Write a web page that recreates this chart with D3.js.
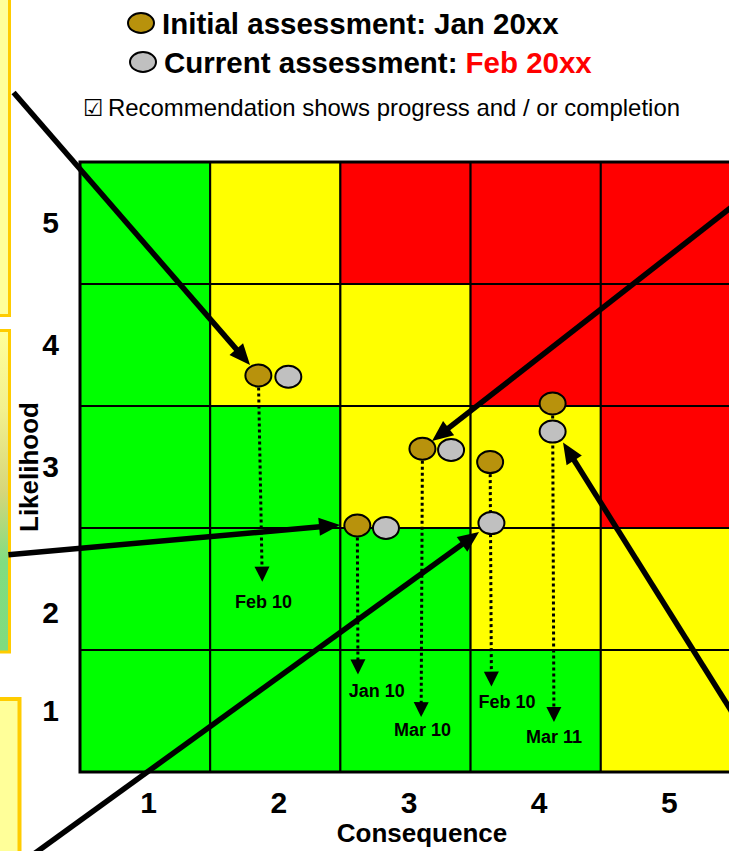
<!DOCTYPE html>
<html><head><meta charset="utf-8">
<script src="https://cdn.jsdelivr.net/npm/d3@7"></script>
<style>html,body{margin:0;padding:0;background:#fff;overflow:hidden}</style>
</head><body>
<svg id="chart" width="729" height="851"></svg>
<script>
// ---- data ----
const consequenceLevels = [1, 2, 3, 4, 5];
const likelihoodLevels = [1, 2, 3, 4, 5];
// cell rating, rows = likelihood 5 .. 1, columns = consequence 1 .. 5
const ratingRows = [
  ["low", "medium", "high",   "high",   "high"],
  ["low", "medium", "medium", "high",   "high"],
  ["low", "low",    "medium", "medium", "high"],
  ["low", "low",    "low",    "medium", "medium"],
  ["low", "low",    "low",    "low",    "medium"]
];
const ratingColors = { low: "#00FF00", medium: "#FFFF00", high: "#FF0000" };

// risks: initial and current assessment (consequence, likelihood)
const initialConsequence = [1.87, 3.13, 2.63, 3.65, 4.13];
const initialLikelihood  = [3.75, 3.15, 2.52, 3.04, 3.52];
const currentConsequence = [2.10, 3.35, 2.85, 3.66, 4.13];
const currentLikelihood  = [3.74, 3.14, 2.50, 2.54, 3.29];
// target level after the recommendation is completed, with its due date
const targetConsequence = [1.90, 3.12, 2.635, 3.66, 4.14];
const targetLikelihood  = [2.06, 0.95, 1.30, 1.20, 0.91];
const dueDates = ["Feb 10", "Mar 10", "Jan 10", "Feb 10", "Mar 11"];
const dueLabelConsequence = [1.91, 3.13, 2.78, 3.78, 4.14];
const dueLabelLikelihood  = [1.90, 0.85, 1.17, 1.08, 0.79];

// callout pointers from the side notes to the risks
const calloutFromC = [-0.01, -0.05, -0.13, 5.72, 5.72];
const calloutFromL = [6.07, 2.28, -0.385, 5.31, 0.63];
const calloutToC   = [1.806, 2.497, 3.565, 3.204, 4.21];
const calloutToL   = [3.836, 2.525, 2.467, 3.213, 3.20];

const legendItems = ["Initial assessment:", "Current assessment:"];
const legendDates = ["Jan 20xx", "Feb 20xx"];
const noteText = "Recommendation shows progress and / or completion";
const xTitle = "Consequence";
const yTitle = "Likelihood";

// ---- drawing ----
const FONT = "'Liberation Sans', Arial, Helvetica, sans-serif";
const svg = d3.select("#chart");
const plot = { left: 80, top: 162, width: 651, height: 610 };

const x = d3.scaleLinear().domain([0.5, 5.5]).range([plot.left, plot.left + plot.width]);
const y = d3.scaleLinear().domain([0.5, 5.5]).range([plot.top + plot.height, plot.top]);

// side note boxes (partly outside the page)
const defs = svg.append("defs");
const grad = defs.append("linearGradient").attr("id", "noteGrad")
  .attr("x1", 0).attr("y1", 0).attr("x2", 0).attr("y2", 1);
[[0, "#FFFF99"], [0.25, "#F2F08E"], [0.5, "#D6D67A"], [0.72, "#80DD80"], [1, "#7FDB7F"]]
  .forEach(([o, c]) => grad.append("stop").attr("offset", o).attr("stop-color", c));

const notes = svg.append("g");
notes.append("rect").attr("x", -40).attr("y", -10).attr("width", 49.5).attr("height", 325.5)
  .attr("fill", "#FFFF99").attr("stroke", "#FFCC00").attr("stroke-width", 3);
notes.append("rect").attr("x", -40).attr("y", 330.5).attr("width", 49.5).attr("height", 321.5)
  .attr("fill", "url(#noteGrad)").attr("stroke", "#FFCC00").attr("stroke-width", 3);
notes.append("rect").attr("x", -40).attr("y", 699).attr("width", 59.5).attr("height", 200)
  .attr("fill", "#FFFF99").attr("stroke", "#FFCC00").attr("stroke-width", 4);

// risk matrix cells
const cells = [];
ratingRows.forEach((row, i) => row.forEach((r, j) =>
  cells.push({ c: consequenceLevels[j], l: likelihoodLevels[likelihoodLevels.length - 1 - i], r })));
svg.append("g").selectAll("rect").data(cells).join("rect")
  .attr("x", d => x(d.c - 0.5)).attr("y", d => y(d.l + 0.5))
  .attr("width", d => x(d.c + 0.5) - x(d.c - 0.5))
  .attr("height", d => y(d.l - 0.5) - y(d.l + 0.5))
  .attr("fill", d => ratingColors[d.r])
  .attr("stroke", "#000").attr("stroke-width", 2);
// outer frame
svg.append("rect").attr("x", x(0.5)).attr("y", y(5.5))
  .attr("width", x(5.5) - x(0.5)).attr("height", y(0.5) - y(5.5))
  .attr("fill", "none").attr("stroke", "#000").attr("stroke-width", 3);

// axes
const xAxis = svg.append("g").attr("transform", `translate(3,${y(0.5)})`)
  .call(d3.axisBottom(x).tickValues(consequenceLevels).tickSize(0).tickPadding(20).tickFormat(d3.format("d")));
const yAxis = svg.append("g").attr("transform", `translate(${x(0.5)},0)`)
  .call(d3.axisLeft(y).tickValues(likelihoodLevels).tickSize(0).tickPadding(21).tickFormat(d3.format("d")));
[xAxis, yAxis].forEach(a => {
  a.select(".domain").remove();
  a.selectAll("text").attr("font-family", FONT).attr("font-weight", "bold")
    .attr("font-size", 30).attr("fill", "#000");
});
yAxis.selectAll(".tick").filter(d => d === 2).select("text").attr("dy", "1.12em");

svg.append("text").attr("x", 422).attr("y", 842)
  .attr("text-anchor", "middle").attr("font-family", FONT).attr("font-weight", "bold")
  .attr("font-size", 26).text(xTitle);
svg.append("text").attr("transform", `translate(38,${y(3)}) rotate(-90)`)
  .attr("text-anchor", "middle").attr("font-family", FONT).attr("font-weight", "bold")
  .attr("font-size", 26).text(yTitle);

// arrow helper
function arrow(g, x1, y1, x2, y2, o) {
  const dx = x2 - x1, dy = y2 - y1, len = Math.hypot(dx, dy);
  const ux = dx / len, uy = dy / len;
  const bx = x2 - ux * o.head, by = y2 - uy * o.head;
  g.append("line").attr("x1", x1).attr("y1", y1)
    .attr("x2", bx + ux * 1).attr("y2", by + uy * 1)
    .attr("stroke", "#000").attr("stroke-width", o.width)
    .attr("stroke-dasharray", o.dash || null);
  const hw = o.headWidth / 2;
  g.append("path")
    .attr("d", `M${x2},${y2}L${bx - uy * hw},${by + ux * hw}L${bx + uy * hw},${by - ux * hw}Z`)
    .attr("fill", "#000");
}

// due-date pointers
const risks = initialConsequence.map((_, i) => ({
  ic: initialConsequence[i], il: initialLikelihood[i],
  cc: currentConsequence[i], cl: currentLikelihood[i],
  tc: targetConsequence[i], tl: targetLikelihood[i],
  due: dueDates[i], lc: dueLabelConsequence[i], ll: dueLabelLikelihood[i]
}));
const dueG = svg.append("g");
risks.forEach(d => arrow(dueG, x(d.ic), y(d.il), x(d.tc), y(d.tl),
  { width: 3, head: 15, headWidth: 15, dash: "3,3" }));
dueG.selectAll("text").data(risks).join("text")
  .attr("x", d => x(d.lc)).attr("y", d => y(d.ll)).attr("dy", "0.36em")
  .attr("text-anchor", "middle").attr("font-family", FONT).attr("font-weight", "bold")
  .attr("font-size", 18).text(d => d.due);

// assessment markers
const dotG = svg.append("g");
dotG.selectAll("ellipse.init").data(risks).join("ellipse").attr("class", "init")
  .attr("cx", d => x(d.ic)).attr("cy", d => y(d.il)).attr("rx", 13).attr("ry", 11)
  .attr("fill", "#B8920C").attr("stroke", "#000").attr("stroke-width", 2);
dotG.selectAll("ellipse.cur").data(risks).join("ellipse").attr("class", "cur")
  .attr("cx", d => x(d.cc)).attr("cy", d => y(d.cl)).attr("rx", 13).attr("ry", 11)
  .attr("fill", "#C0C0C0").attr("stroke", "#000").attr("stroke-width", 2);

// callout pointers
const callG = svg.append("g");
calloutFromC.forEach((_, i) => arrow(callG,
  x(calloutFromC[i]), y(calloutFromL[i]), x(calloutToC[i]), y(calloutToL[i]),
  { width: 5.5, head: 21, headWidth: 18 }));

// legend
const leg = svg.append("g");
[[141, 23], [143, 62]].forEach(([cx, cy], i) => {
  leg.append("ellipse").attr("cx", cx).attr("cy", cy).attr("rx", 13).attr("ry", 10)
    .attr("fill", i === 0 ? "#B8920C" : "#C0C0C0").attr("stroke", "#000").attr("stroke-width", 2);
  const label = leg.append("text").attr("x", cx + 21).attr("y", cy + 10.5)
    .attr("font-family", FONT).attr("font-weight", "bold").attr("font-size", 29.5)
    .attr("fill", "#000").text(legendItems[i]);
  const w = label.node().getComputedTextLength();
  leg.append("text").attr("x", cx + 21 + w + 8).attr("y", cy + 10.5)
    .attr("font-family", FONT).attr("font-weight", "bold").attr("font-size", 29.5)
    .attr("fill", i === 0 ? "#000" : "#FF0000").text(legendDates[i]);
});
leg.append("text").attr("x", 83).attr("y", 116)
  .attr("font-family", "'DejaVu Sans', sans-serif").attr("font-size", 23).text("\u2611");
leg.append("text").attr("x", 108).attr("y", 116)
  .attr("font-family", FONT).attr("font-size", 24)
  .attr("textLength", 572).attr("lengthAdjust", "spacingAndGlyphs").text(noteText);
</script>
</body></html>
